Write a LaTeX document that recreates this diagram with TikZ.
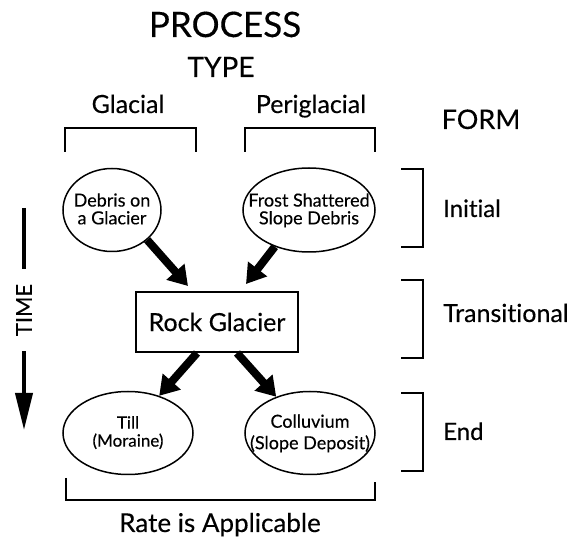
\documentclass[tikz,border=0pt]{standalone}
\usepackage{fontspec}
\setmainfont{Lato}[Ligatures=NoCommon, FakeBold=0.3]
\usetikzlibrary{shapes.geometric, arrows.meta, positioning, calc}
\newcommand{\ovaltext}[1]{\smash{\makebox[0pt]{\raisebox{-0.3em}{\begin{tabular}{@{}c@{}}#1\end{tabular}}}}}

\begin{document}
\begin{tikzpicture}[x=1pt, y=-1pt,
    every node/.style={align=center},
    heading/.style={anchor=base, inner sep=0pt},
    oval/.style={
        draw,
        ellipse,
        line width=1.5pt,
        inner sep=0pt,
        font=\fontsize{18}{15}\selectfont
    },
    box/.style={
        draw,
        line width=2pt,
        minimum width=162pt,
        minimum height=60pt,
        font=\fontsize{25}{30}\selectfont
    },
    fatarrow/.style={line width=8pt, -{Triangle[length=19pt, width=23pt]}},
    bracket/.style={line width=2pt},
    timearrow/.style={line width=4pt, -{Triangle[length=37pt, width=17pt]}}]

    \useasboundingbox (0,0) rectangle (579,537);

    % Headings
    \node[heading, font=\fontsize{35}{40}\selectfont] (process) at (225,37) {PROCESS};
    \node[heading, font=\fontsize{28}{32}\selectfont] (type) at (221,77) {TYPE};
    \node[heading, font=\fontsize{25}{30}\selectfont] (glacial) at (128,113) {Glacial};
    \node[heading, font=\fontsize{25}{30}\selectfont] (periglacial) at (311,113) {Periglacial};
    \node[heading, font=\fontsize{27}{32}\selectfont] (form) at (481,129) {FORM};

    % Brackets under the process types
    \draw[bracket] (65,152) -- (65,128) -- (196,128) -- (196,152);
    \draw[bracket] (245,152) -- (245,128) -- (375,128) -- (375,152);

    % Initial forms
    \node[oval, minimum width=98pt, minimum height=83pt] (debris) at (112,210) {\ovaltext{Debris on\\a Glacier}};
    \node[oval, minimum width=132pt, minimum height=84pt] (frost) at (309,210) {\ovaltext{Frost Shattered\\Slope Debris}};

    % Transitional form
    \node[box] (rock) at (217,322) {Rock Glacier};
    \draw[fatarrow] (debris.south east) -- ($(rock.north)+(-29,-5)$);
    \draw[fatarrow] (frost.-133) -- ($(rock.north)+(29,-7)$);

    % End forms
    \node[oval, minimum width=130pt, minimum height=83pt, font=\fontsize{17}{16}\selectfont] (till) at (128,433) {\ovaltext{Till\\(Moraine)}};
    \node[oval, minimum width=130pt, minimum height=83pt] (colluvium) at (310,433) {\ovaltext{Colluvium\\[3pt](Slope Deposit)}};
    \draw[fatarrow] ($(rock.south)+(-20,0)$) -- (till.50);
    \draw[fatarrow] ($(rock.south)+(20,0)$) -- (colluvium.133);

    % Form brackets and labels
    \foreach \top/\bot in {169/247, 280/358, 393/471}
        \draw[bracket] (401,\top) -- (423,\top) -- (423,\bot) -- (401,\bot);
    \node[heading, anchor=base west, font=\fontsize{24}{28}\selectfont] (initial) at (443,217) {Initial};
    \node[heading, anchor=base west, font=\fontsize{25}{30}\selectfont] (transitional) at (443,322) {Transitional};
    \node[heading, anchor=base west, font=\fontsize{24}{28}\selectfont] (end) at (443,440) {End};

    % Time axis
    \node[rotate=90, inner xsep=15pt, inner ysep=0pt, font=\fontsize{22}{26}\selectfont] (time) at (24,310) {TIME};
    \coordinate (timetop) at (24,208);
    \coordinate (timeend) at (24,430);
    \draw[line width=4pt] (timetop) -- (time.east);
    \draw[timearrow] (time.west) -- (timeend);

    % Bottom bracket
    \draw[bracket] (66,478) -- (66,500) -- (375,500) -- (375,482);
    \node[heading, font=\fontsize{26}{30}\selectfont] (rate) at (220,532) {Rate is Applicable};

\end{tikzpicture}
\end{document}
